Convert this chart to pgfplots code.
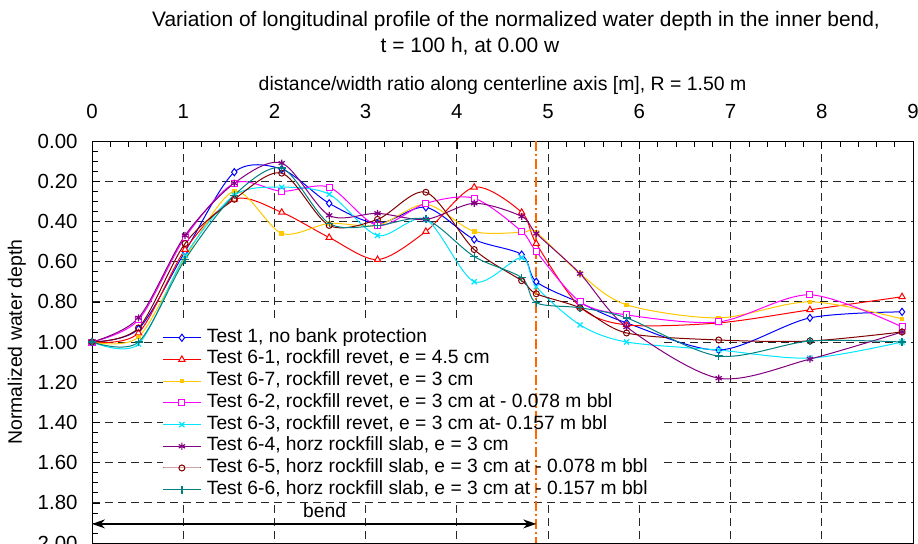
\documentclass[border=0pt]{standalone}
\usepackage{fontspec}
\setmainfont{Liberation Sans}
\usepackage{pgfplots}
\usepackage{pgfplotstable}
\pgfplotsset{compat=1.18}
\usetikzlibrary{arrows.meta}
\definecolor{cBlue}{RGB}{0,0,255}
\definecolor{cRed}{RGB}{255,0,0}
\definecolor{cYel}{RGB}{255,200,0}
\definecolor{cMag}{RGB}{255,0,255}
\definecolor{cCya}{RGB}{0,230,255}
\definecolor{cPur}{RGB}{128,0,128}
\definecolor{cBro}{RGB}{128,0,0}
\definecolor{cTea}{RGB}{0,128,128}
\definecolor{cOra}{RGB}{255,102,0}

\pgfplotstableread{
x     t1     t61    t67    t62    t63    t64    t65    t66
0.00  1.00   1.00   1.00   1.00   1.00   1.00   1.00   1.00
0.51  0.935  0.955  0.975  0.89   1.01   0.88   0.93   1.00
1.02  0.55   0.54   0.58   0.48   0.57   0.47   0.51   0.59
1.56  0.155  0.29   0.25   0.21   0.27   0.21   0.29   0.27
2.08  0.14   0.355  0.46   0.25   0.23   0.11   0.16   0.135
2.60  0.31   0.48   0.41   0.23   0.265  0.37   0.42   0.41
3.13  0.41   0.59   0.42   0.42   0.47   0.36   0.39   0.42
3.66  0.33   0.45   0.315  0.31   0.39   0.39   0.255  0.39
4.19  0.49   0.23   0.45   0.285  0.70   0.31   0.54   0.575
4.71  0.565  0.355  0.455  0.45   0.58   0.375  0.695  0.68
4.87  0.70   0.51   0.455  0.55   0.725  0.46   0.76   0.805
5.35  0.805  0.825  0.66   0.80   0.915  0.66   0.83   0.83
5.86  0.905  0.915  0.815  0.865  1.00   0.925  0.955  0.88
6.87  1.04   0.905  0.88   0.90   1.04   1.18   0.99   1.07
7.87  0.88   0.84   0.80   0.765  1.08   1.085  0.995  0.995
8.88  0.85   0.775  0.885  0.925  1.00   0.95   0.95   1.00
}\datatable

\begin{document}
\begin{tikzpicture}
\begin{axis}[
  at={(92bp,1bp)}, anchor=south west,
  scale only axis, width=821bp, height=402bp,
  xmin=0, xmax=9, ymin=0, ymax=2, y dir=reverse,
  xtick={0,1,2,3,4,5,6,7,8,9},
  ytick={0,0.2,0.4,0.6,0.8,1,1.2,1.4,1.6,1.8,2},
  minor x tick num=4, minor y tick num=3,
  xtick pos=upper, xticklabel pos=upper,
  ytick pos=left,
  tick align=inside,
  major tick length=8bp, minor tick length=6bp,
  every tick/.style={black, line width=0.6bp},
  axis line style={black, line width=0.9bp},
  grid=major,
  major grid style={black!85, line width=0.8bp, dash pattern=on 8bp off 5bp},
  /pgf/number format/assume math mode=true,
  yticklabel style={/pgf/number format/fixed, /pgf/number format/fixed zerofill, /pgf/number format/precision=2, xshift=-11bp},
  xticklabel style={yshift=19bp},
  tick label style={font=\fontsize{20.5}{20.5}\selectfont},
  xlabel={distance/width ratio along centerline axis [m], R = 1.50 m},
  xlabel style={at={(axis description cs:0.5,1)}, anchor=center, yshift=56bp, font=\fontsize{19.5}{19.5}\selectfont},
  ylabel={Normalized water depth},
  ylabel style={at={(axis description cs:-0.0914,0.5)}, anchor=center, font=\fontsize{19.5}{19.5}\selectfont},
  legend style={at={(axis description cs:0.0855,0.538)}, anchor=north west, draw=none, fill=none,
    inner sep=0pt, column sep=4bp, row sep=0pt,
    font=\fontsize{19.3}{19.3}\selectfont,
    nodes={text height=13bp, text depth=4bp, inner ysep=2.35bp, inner xsep=1.5bp}},
  legend cell align=left,
  legend image code/.code={\draw[mark repeat=2,mark phase=2,#1] plot coordinates {(0bp,0bp) (19bp,0bp) (38bp,0bp)};},
  every axis plot/.append style={line width=1bp, smooth},
]
% white background behind the legend (hides the grid there)
\fill[white] (axis cs:0.78,0.88) rectangle (axis cs:6.23,1.79);

\addplot[cBlue, mark=diamond*, mark size=3.6bp, mark options={fill=white, solid}] table[x=x,y=t1] {\datatable};
\addlegendentry{Test 1, no bank protection}
\addplot[cRed, mark=triangle*, mark size=3.6bp, mark options={fill=white, solid}] table[x=x,y=t61] {\datatable};
\addlegendentry{Test 6-1, rockfill revet, e = 4.5 cm}
\addplot[cYel, mark=square*, mark size=1.8bp, mark options={fill=cYel, solid}] table[x=x,y=t67] {\datatable};
\addlegendentry{Test 6-7, rockfill revet, e = 3 cm}
\addplot[cMag, mark=square*, mark size=3bp, mark options={fill=white, solid}] table[x=x,y=t62] {\datatable};
\addlegendentry{Test 6-2, rockfill revet, e = 3 cm at - 0.078 m bbl}
\addplot[cCya, mark=x, mark size=3.6bp, mark options={solid, line width=1.2bp}] table[x=x,y=t63] {\datatable};
\addlegendentry{Test 6-3, rockfill revet, e = 3 cm at- 0.157 m bbl}
\addplot[cPur, mark=asterisk, mark size=3.6bp, mark options={solid, line width=1.2bp}] table[x=x,y=t64] {\datatable};
\addlegendentry{Test 6-4, horz rockfill slab, e = 3 cm}
\addplot[cBro, mark=o, mark size=3bp, mark options={fill=white, solid}] table[x=x,y=t65] {\datatable};
\addlegendentry{Test 6-5, horz rockfill slab, e = 3 cm at - 0.078 m bbl}
\addplot[cTea, mark=+, mark size=4bp, mark options={solid, line width=1.3bp}] table[x=x,y=t66] {\datatable};
\addlegendentry{Test 6-6, horz rockfill slab, e = 3 cm at - 0.157 m bbl}

% end of bend marker
\draw[cOra, line width=1.6bp, dash pattern=on 10bp off 3bp on 2bp off 3bp] (axis cs:4.87,0) -- (axis cs:4.87,2);
% bend arrow
\draw[black, line width=1.2bp, {Stealth[length=13bp,width=9bp]}-{Stealth[length=13bp,width=9bp]}] (axis cs:0,1.905) -- (axis cs:4.87,1.905);
\node[font=\fontsize{19.3}{19.3}\selectfont] at (axis cs:2.55,1.84) {bend};
\end{axis}
\node[anchor=west, inner sep=0pt, font=\fontsize{21}{21}\selectfont] at (152bp,523bp) {Variation of longitudinal profile of the normalized water depth in the inner bend,};
\node[inner sep=0pt, font=\fontsize{21}{21}\selectfont] at (470bp,498bp) {t = 100 h, at 0.00 w};
\pgfresetboundingbox
\path[use as bounding box] (0,0) rectangle (918bp,544bp);
\end{tikzpicture}
\end{document}
